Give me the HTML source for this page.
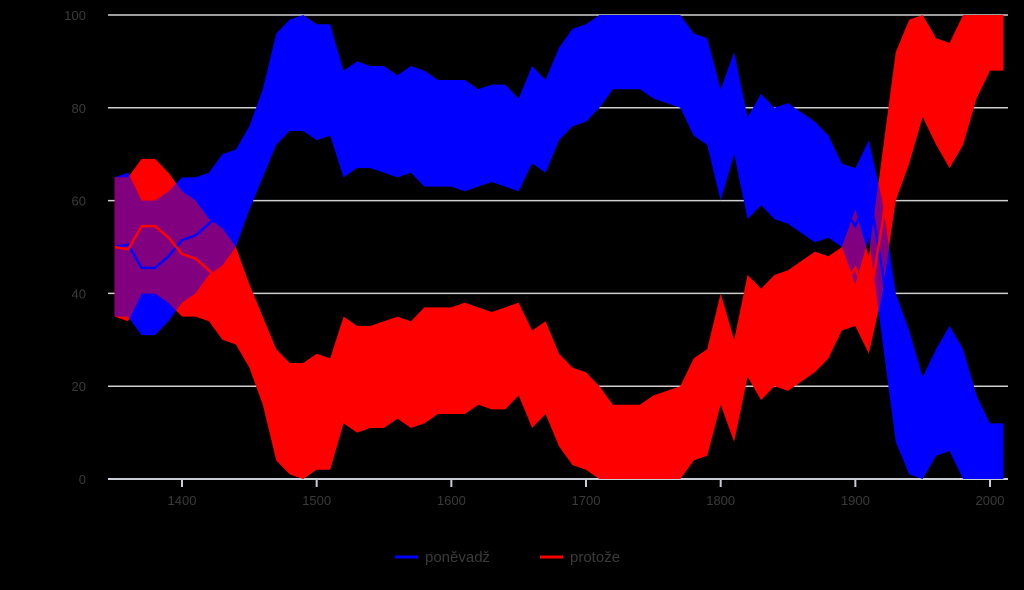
<!DOCTYPE html>
<html><head><meta charset="utf-8"><style>
body{margin:0;background:#000;width:1024px;height:585px;overflow:hidden}
svg text{font-family:"Liberation Sans",sans-serif;fill:#3a3a3a}
</style></head><body>
<svg id="chart" width="1024" height="585" xmlns="http://www.w3.org/2000/svg"></svg>
<script>
const years=[];for(let y=1350;y<=2010;y+=10)years.push(y);
const blueUpper=[65,66,60,60,62,65,65,66,70,71,76,84,96,99,100,98,98,88,90,89,89,87,89,88,86,86,86,84,85,85,82,89,86,93,97,98,100,100,100,100,100,100,100,96,95,84,92,78,83,80,81,79,77,74,68,67,73,60,40,32,22,28,33,28,18,12,12];
const blueLower=[35,35,31,31,34,38,40,44,46,50,58,65,72,75,75,73,74,65,67,67,66,65,66,63,63,63,62,63,64,63,62,68,66,73,76,77,80,84,84,84,82,81,80,74,72,60,70,56,59,56,55,53,51,52,50,42,52,30,8,1,0,5,6,0,0,0,0];
const redUpper=[65,65,69,69,66,62,60,56,54,50,42,35,28,25,25,27,26,35,33,33,34,35,34,37,37,37,38,37,36,37,38,32,34,27,24,23,20,16,16,16,18,19,20,26,28,40,30,44,41,44,45,47,49,48,50,58,48,70,92,99,100,95,94,100,100,100,100];
const redLower=[35,34,40,40,38,35,35,34,30,29,24,16,4,1,0,2,2,12,10,11,11,13,11,12,14,14,14,16,15,15,18,11,14,7,3,2,0,0,0,0,0,0,0,4,5,16,8,22,17,20,19,21,23,26,32,33,27,40,60,68,78,72,67,72,82,88,88];
const yTicks=[0,20,40,60,80,100];
const xTicks=[1400,1500,1600,1700,1800,1900,2000];
const X=v=>182+(v-1400)*1.3467, Y=v=>479-v*4.64;
const svg=document.getElementById('chart'),NS='http://www.w3.org/2000/svg';
function mk(t,a,p){const e=document.createElementNS(NS,t);for(const k in a)e.setAttribute(k,a[k]);(p||svg).appendChild(e);return e;}
for(const t of yTicks){
 const l=mk('line',{x1:108,x2:1008,y1:Y(t),y2:Y(t),stroke:t===0?'#c8cdd6':'#cfcfcf','stroke-width':t===0?2:1.5});
 
 
 const tx=mk('text',{x:86,y:Y(t)+5,'text-anchor':'end','font-size':13});tx.textContent=t;
 
 
}
for(const t of xTicks){
 const l=mk('line',{x1:X(t),x2:X(t),y1:479,y2:487,stroke:'#c8cdd6','stroke-width':2});
 
 
 const tx=mk('text',{x:X(t),y:505,'text-anchor':'middle','font-size':13});tx.textContent=t;
 
 
}
function band(u,l){let d='M'+years.map((y,i)=>X(y)+','+Y(u[i])).join('L');for(let i=years.length-1;i>=0;i--)d+='L'+X(years[i])+','+Y(l[i]);return d+'Z';}
const defs=mk('defs',{});const cp=mk('clipPath',{id:'bc'},defs);mk('path',{d:band(blueUpper,blueLower)},cp);
const bb=mk('path',{d:band(blueUpper,blueLower),fill:'#0000ff'});


const rb=mk('path',{d:band(redUpper,redLower),fill:'#ff0000'});


const ov=mk('path',{d:band(redUpper,redLower),fill:'#800080','clip-path':'url(#bc)'});


function mid(u,l,c,n){const d='M'+years.map((y,i)=>X(y)+','+Y((u[i]+l[i])/2)).join('L');const p=mk('path',{d:d,fill:'none',stroke:c,'stroke-width':2.5,'clip-path':'url(#bc)'});
 
 }
mid(blueUpper,blueLower,'#0000ff','poneváadz-line');
mid(redUpper,redLower,'#ff0000','protoze-line');
const lg=[['#0000ff','poněvadž',395],['#ff0000','protože',540]];
for(const [c,n,x] of lg){
 const l=mk('line',{x1:x,x2:x+23,y1:557,y2:557,stroke:c,'stroke-width':3});
 
 
 const t=mk('text',{x:x+30,y:562,'font-size':15});t.textContent=n;
 
 
}
</script>
</body></html>
